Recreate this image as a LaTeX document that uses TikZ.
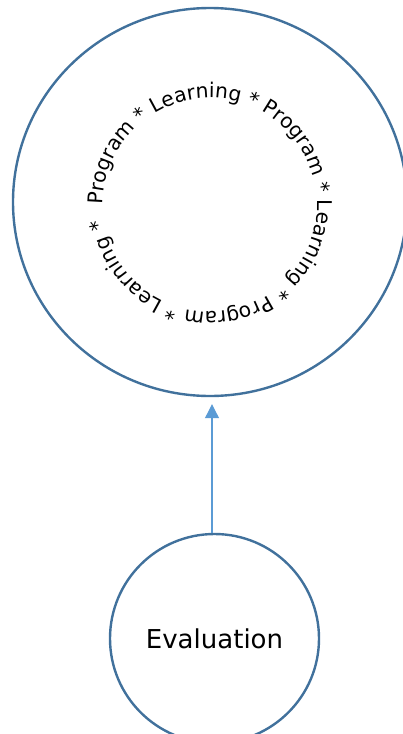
\documentclass[tikz,border=0pt]{standalone}
\usepackage{fontspec}
\setmainfont{DejaVu Sans}
\usetikzlibrary{decorations.text,arrows.meta,shapes.geometric}
\definecolor{ringblue}{RGB}{65,113,156}
\definecolor{arrowblue}{RGB}{91,155,213}
\begin{document}
\begin{tikzpicture}[x=1pt,y=-1pt,
  ring/.style={draw=ringblue,line width=2.4pt},
  link/.style={draw=arrowblue,line width=1.1pt,-{Triangle[width=14pt,length=14pt]}}]
\useasboundingbox (0,0) rectangle (403,734);
\node[ring,ellipse,minimum width=394pt,minimum height=388pt,inner sep=0pt] (big) at (210,202) {};
\node[ring,circle,minimum size=209pt,inner sep=0pt,font=\fontsize{26}{30}\selectfont] (eval) at (214.5,638.5) {Evaluation};
\coordinate (ax) at (212,0);
\draw[link,shorten >=7pt] (eval.north -| ax) -- (big.south -| ax);
\coordinate (c) at (210,205);
\path[decorate,decoration={text along path,text align=left,
  text={|\fontsize{20.3}{24}\selectfont|Program * Learning * Program * Learning * Program * Learning * }}]
  ([shift={(180:107)}]c) arc[start angle=180, end angle=540, radius=107];
\end{tikzpicture}
\end{document}
